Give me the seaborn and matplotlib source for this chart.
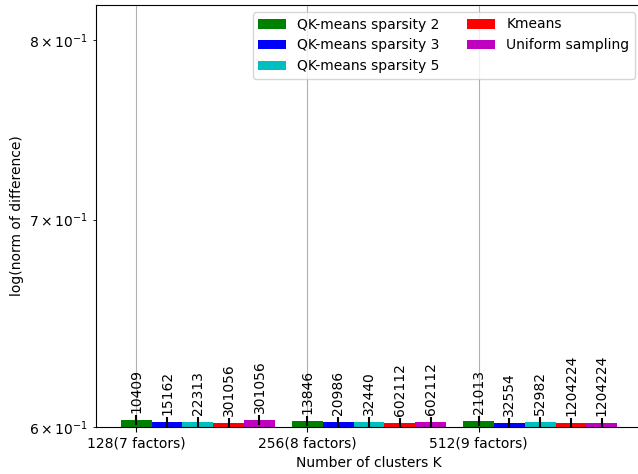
import pandas as pd
import matplotlib
matplotlib.use('Agg')
import matplotlib.pyplot as plt
import seaborn as sns

# values
clusters = ['128(7 factors)', '256(8 factors)', '512(9 factors)']
methods = ['QK-means sparsity 2', 'QK-means sparsity 3', 'QK-means sparsity 5',
           'Kmeans', 'Uniform sampling']
colors = ['g', 'b', 'c', 'r', 'm']

norm_sp2 = [0.6030, 0.6028, 0.6027]
norm_sp3 = [0.6022, 0.6022, 0.6018]
norm_sp5 = [0.6022, 0.6024, 0.6022]
norm_kmeans = [0.6018, 0.6018, 0.6018]
norm_uniform = [0.6031, 0.6022, 0.6018]

err_sp2 = [0.0022, 0.0022, 0.0022]
err_sp3 = [0.0022, 0.0022, 0.0022]
err_sp5 = [0.0022, 0.0022, 0.0022]
err_kmeans = [0.0022, 0.0022, 0.0022]
err_uniform = [0.0022, 0.0022, 0.0022]

params_sp2 = ['10409', '13846', '21013']
params_sp3 = ['15162', '20986', '32554']
params_sp5 = ['22313', '32440', '52982']
params_kmeans = ['301056', '602112', '1204224']
params_uniform = ['301056', '602112', '1204224']

values = [norm_sp2, norm_sp3, norm_sp5, norm_kmeans, norm_uniform]
errors = [err_sp2, err_sp3, err_sp5, err_kmeans, err_uniform]
params = [params_sp2, params_sp3, params_sp5, params_kmeans, params_uniform]

rows = []
for m, vals, errs, labs in zip(methods, values, errors, params):
    for c, v, e, l in zip(clusters, vals, errs, labs):
        rows.append({'K': c, 'norm': v, 'err': e, 'params': l, 'method': m})
df = pd.DataFrame(rows)

fig = plt.figure(figsize=(6.38, 4.74), dpi=100)
ax = fig.add_axes([96 / 638, 47 / 474, (642 - 96) / 638, (427 - 5) / 474])

sns.barplot(data=df, x='K', y='norm', hue='method', palette=colors,
            width=0.9, saturation=1, errorbar=None, linewidth=0, ax=ax)
ax.set_yscale('log')

for cont, m in zip(ax.containers, methods):
    sub = df[df['method'] == m]
    xs = [p.get_x() + p.get_width() / 2 for p in cont]
    ax.errorbar(xs, sub['norm'], yerr=sub['err'], fmt='none', ecolor='k', elinewidth=1.5)
    for x, v, l in zip(xs, sub['norm'], sub['params']):
        ax.text(x, v * 1.0052, l, rotation=90, ha='center', va='bottom', fontsize=10)

tick_pos = [p.get_x() + p.get_width() / 2 for p in ax.containers[0]]
ax.set_xticks(tick_pos)
ax.set_xticklabels(clusters)
ax.set_xlim(-0.595, 2.595)
ax.set_ylim(0.6, 0.821)
ax.xaxis.grid(True, color='#b0b0b0', linewidth=0.8)
ax.yaxis.grid(False)
ax.set_axisbelow(True)

ax.set_xlabel('Number of clusters K')
ax.set_ylabel('log(norm of difference)')
ax.legend(loc='upper right', ncol=2)

fig.savefig('out.png', dpi=100)
